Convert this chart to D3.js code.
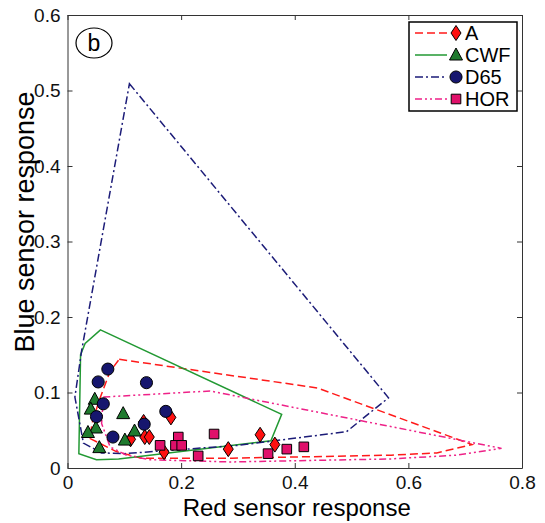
<!DOCTYPE html>
<html>
<head>
<meta charset="utf-8">
<script src="https://cdn.jsdelivr.net/npm/d3@7"></script>
<style>
  body { margin: 0; background: #fff; }
  svg { font-family: "Liberation Sans", Arial, Helvetica, sans-serif; }
</style>
</head>
<body>
<svg id="chart" width="545" height="523"></svg>
<script>
// illuminant names (legend order)
var illuminants = ["A", "CWF", "D65", "HOR"];

// sample responses [red, blue]
var aPts = [[0.134,0.061],[0.182,0.067],[0.111,0.038],[0.136,0.041],[0.144,0.041],[0.170,0.021],[0.283,0.025],[0.339,0.044],[0.365,0.031]];
var cwfPts = [[0.048,0.091],[0.041,0.078],[0.098,0.072],[0.050,0.053],[0.036,0.047],[0.118,0.049],[0.101,0.037],[0.056,0.027]];
var d65Pts = [[0.071,0.131],[0.054,0.114],[0.139,0.113],[0.063,0.085],[0.051,0.068],[0.173,0.075],[0.135,0.058],[0.080,0.041]];
var horPts = [[0.163,0.030],[0.195,0.041],[0.190,0.030],[0.201,0.030],[0.230,0.016],[0.258,0.045],[0.353,0.019],[0.386,0.025],[0.416,0.028]];

// gamut outlines
var aHull = [[0.091,0.144],[0.44,0.106],[0.712,0.031],[0.65,0.020],[0.57,0.017],[0.29,0.013],[0.13,0.013],[0.085,0.022],[0.040,0.039],[0.043,0.059],[0.056,0.090],[0.075,0.128]];
var cwfHull = [[0.058,0.183],[0.377,0.071],[0.358,0.036],[0.09,0.012],[0.051,0.011],[0.020,0.019],[0.023,0.150],[0.031,0.165]];
var d65Hull = [[0.109,0.509],[0.565,0.093],[0.491,0.048],[0.30,0.030],[0.10,0.019],[0.06,0.020],[0.028,0.033],[0.013,0.094],[0.025,0.156]];
var horHull = [[0.063,0.094],[0.251,0.102],[0.764,0.026],[0.685,0.017],[0.568,0.012],[0.286,0.008],[0.145,0.011],[0.104,0.017],[0.075,0.028],[0.060,0.059]];

var xTicks = [0, 0.2, 0.4, 0.6, 0.8];
var yTicks = [0, 0.1, 0.2, 0.3, 0.4, 0.5, 0.6];

var svg = d3.select("#chart");

var x = d3.scaleLinear().domain([0, 0.8]).range([67.5, 522]);
var y = d3.scaleLinear().domain([0, 0.6]).range([468, 15]);

var styles = {
  A:   {line: "#ff1a1a", dash: "8,4",            fill: "#ff1010", shape: "diamond"},
  CWF: {line: "#229933", dash: null,             fill: "#1f7a2e", shape: "triangle"},
  D65: {line: "#1c1c78", dash: "8,3,2,3",        fill: "#16166e", shape: "circle"},
  HOR: {line: "#ee2288", dash: "7,3,2,3,2,3",    fill: "#e0106a", shape: "square"}
};
var hulls = {A: aHull, CWF: cwfHull, D65: d65Hull, HOR: horHull};
var pts = {A: aPts, CWF: cwfPts, D65: d65Pts, HOR: horPts};

function markerPath(shape) {
  if (shape == "diamond") return "M0,-7.5L5,0L0,7.5L-5,0Z";
  if (shape == "triangle") return "M0,-7L6.5,5L-6.5,5Z";
  if (shape == "square") return "M-4.8,-4.8H4.8V4.8H-4.8Z";
  return d3.symbol().type(d3.symbolCircle).size(115)();
}

var line = d3.line().x(function(d) { return x(d[0]); }).y(function(d) { return y(d[1]); })
  .curve(d3.curveLinearClosed);

// axes box
var fmt = function(d) { return d === 0 ? "0" : d3.format(".1f")(d); };
var xAxis = d3.axisBottom(x).tickValues(xTicks).tickSizeInner(-5).tickSizeOuter(0).tickPadding(8).tickFormat(fmt);
var yAxis = d3.axisLeft(y).tickValues(yTicks).tickSizeInner(-5).tickSizeOuter(0).tickPadding(7).tickFormat(fmt);

var gx = svg.append("g").attr("transform", "translate(0,468)").call(xAxis);
var gy = svg.append("g").attr("transform", "translate(67.5,0)").call(yAxis);
svg.append("g").attr("transform", "translate(0,15)")
  .call(d3.axisTop(x).tickValues(xTicks).tickSizeInner(-5).tickSizeOuter(0).tickFormat(""));
svg.append("g").attr("transform", "translate(522,0)")
  .call(d3.axisRight(y).tickValues(yTicks).tickSizeInner(-5).tickSizeOuter(0).tickFormat(""));

svg.selectAll(".domain").attr("stroke", "#333");
svg.selectAll(".tick line").attr("stroke", "#333");
gx.selectAll("text").attr("font-size", 19).attr("fill", "#111");
gy.selectAll("text").attr("font-size", 19).attr("fill", "#111");

// axis titles
svg.append("text").attr("x", x(0.4) + 2).attr("y", 516).attr("text-anchor", "middle")
  .attr("font-size", 24).text("Red sensor response");
svg.append("text").attr("transform", "translate(34,222) rotate(-90)")
  .attr("text-anchor", "middle").attr("font-size", 27).text("Blue sensor response");

// gamut outlines
illuminants.forEach(function(k) {
  svg.append("path").datum(hulls[k]).attr("d", line)
    .attr("fill", "none").attr("stroke", styles[k].line).attr("stroke-width", 1.5)
    .attr("stroke-dasharray", styles[k].dash);
});

// sample markers
illuminants.forEach(function(k) {
  svg.append("g").selectAll("path").data(pts[k]).enter().append("path")
    .attr("transform", function(d) { return "translate(" + x(d[0]) + "," + y(d[1]) + ")"; })
    .attr("d", markerPath(styles[k].shape))
    .attr("fill", styles[k].fill).attr("stroke", "#000").attr("stroke-width", 1);
});

// panel label
svg.append("ellipse").attr("cx", 94).attr("cy", 43).attr("rx", 18).attr("ry", 15)
  .attr("fill", "none").attr("stroke", "#000").attr("stroke-width", 1.2);
svg.append("text").attr("x", 94).attr("y", 51).attr("text-anchor", "middle")
  .attr("font-size", 23).text("b");

// legend
var leg = svg.append("g");
leg.append("rect").attr("x", 409).attr("y", 22).attr("width", 108).attr("height", 89)
  .attr("fill", "#fff").attr("stroke", "#000").attr("stroke-width", 1.5);
illuminants.forEach(function(k, i) {
  var ly = 33 + i * 22;
  leg.append("line").attr("x1", 415).attr("x2", 447).attr("y1", ly).attr("y2", ly)
    .attr("stroke", styles[k].line).attr("stroke-width", 1.5).attr("stroke-dasharray", styles[k].dash);
  leg.append("path").attr("transform", "translate(456," + ly + ")")
    .attr("d", markerPath(styles[k].shape))
    .attr("fill", styles[k].fill).attr("stroke", "#000").attr("stroke-width", 1);
  leg.append("text").attr("x", 465).attr("y", ly + 7).attr("font-size", 20).text(k);
});
</script>
</body>
</html>
